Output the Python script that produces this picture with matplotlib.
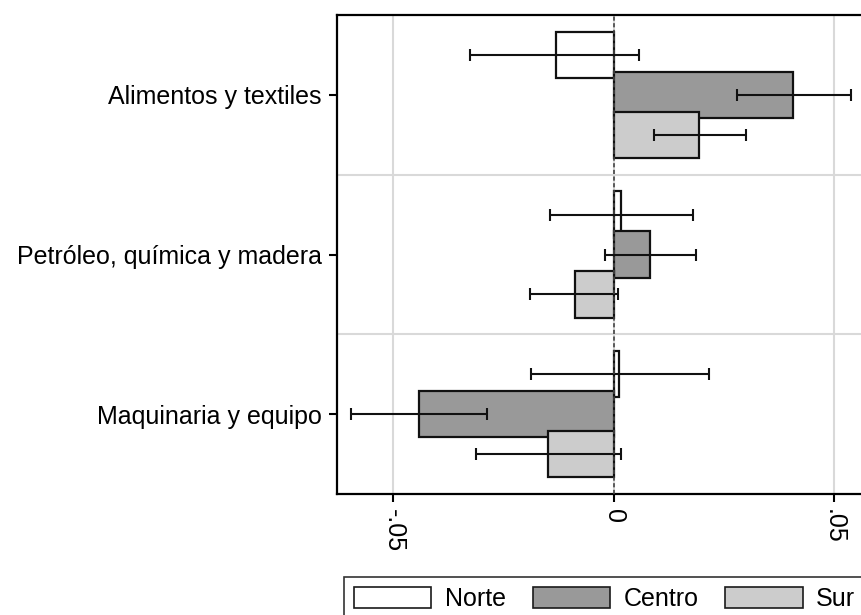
import matplotlib
matplotlib.use("Agg")
import matplotlib.pyplot as plt
import numpy as np
from matplotlib.patches import Patch

plt.rcParams['font.family'] = ['Liberation Sans', 'DejaVu Sans']

# data
sectors = ["Alimentos y textiles", "Petróleo, química y madera", "Maquinaria y equipo"]
regions = ["Norte", "Centro", "Sur"]
colors = ["#ffffff", "#999999", "#cccccc"]

norte = [-0.0131, 0.0016, 0.0012]
centro = [0.0408, 0.0082, -0.0441]
sur = [0.0194, -0.0088, -0.0148]

norte_lo = [-0.0325, -0.0145, -0.0188]
norte_hi = [0.0058, 0.0181, 0.0216]
centro_lo = [0.0281, -0.0020, -0.0597]
centro_hi = [0.0540, 0.0187, -0.0287]
sur_lo = [0.0092, -0.0189, -0.0313]
sur_hi = [0.0300, 0.0009, 0.0017]

xticks = [-0.05, 0, 0.05]
xticklabels = ["-.05", "0", ".05"]

values = [norte, centro, sur]
lows = [norte_lo, centro_lo, sur_lo]
highs = [norte_hi, centro_hi, sur_hi]

W, H = 862, 615
fig = plt.figure(figsize=(W / 100, H / 100), dpi=100)
ax = fig.add_axes([337 / W, 1 - 494 / H, (870 - 337) / W, (494 - 15) / H])

y = np.arange(len(sectors))
offsets = [-0.25, 0, 0.25]
bar_h = 0.29

# grid first
for gx in xticks:
    ax.axvline(gx, color="#d9d9d9", lw=1.5, zorder=0)
for gy in [0.5, 1.5]:
    ax.axhline(gy, color="#d9d9d9", lw=1.5, zorder=0)

for k in range(3):
    v = np.array(values[k])
    yy = y + offsets[k]
    ax.barh(yy, v, height=bar_h, color=colors[k], edgecolor="#111111",
            linewidth=1.6, zorder=2 + k)
    lo = v - np.array(lows[k])
    hi = np.array(highs[k]) - v
    ax.errorbar(v, yy, xerr=[lo, hi], fmt="none", ecolor="#111111",
                elinewidth=1.5, capsize=4, capthick=1.5, zorder=6)

ax.axvline(0, color="#444444", lw=1.2, linestyle=(0, (2.5, 1.5)), zorder=7)

ax.set_ylim(2.5, -0.5)
ax.set_xlim(-0.0628, 0.0582)
ax.set_yticks(y)
ax.set_yticklabels(sectors, fontsize=18)
ax.set_xticks(xticks)
ax.set_xticklabels(xticklabels, fontsize=18, rotation=270, va="top", ha="center")
ax.tick_params(axis="both", length=6, width=1.5, color="black", pad=5)

for s in ["left", "bottom", "top"]:
    ax.spines[s].set_linewidth(1.6)
    ax.spines[s].set_color("black")
ax.spines["right"].set_visible(False)

handles = [Patch(facecolor=c, edgecolor="#1a1a1a", linewidth=1.2) for c in colors]
leg = fig.legend(handles, regions, loc="upper left",
                 bbox_to_anchor=(344 / W, 1 - 577 / H), ncol=3, fontsize=18,
                 frameon=True, fancybox=False, handlelength=3.1, handleheight=0.9,
                 handletextpad=0.55, columnspacing=1.05, borderpad=0.4,
                 borderaxespad=0)
leg.get_frame().set_edgecolor("black")
leg.get_frame().set_linewidth(1.2)

fig.savefig("out.png", dpi=100)
